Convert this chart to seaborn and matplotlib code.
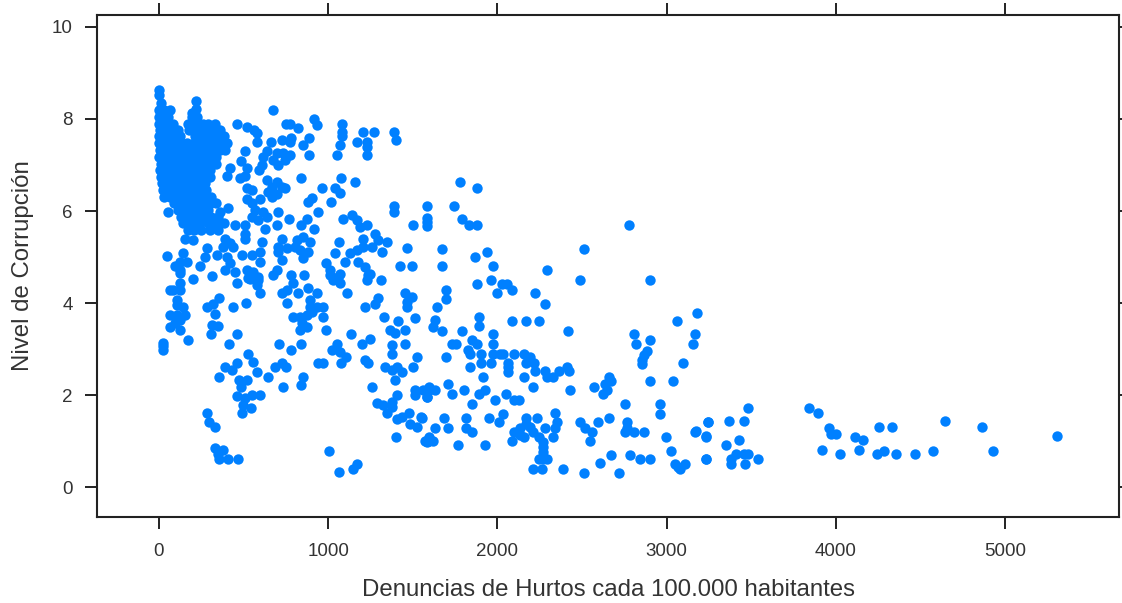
import matplotlib
matplotlib.use("Agg")
import matplotlib.pyplot as plt
import pandas as pd
import seaborn as sns

# (hurtos, corrupcion), por zona
nucleo_denso = {
    8.34: [10],
    8.20: [0, 30, 65],
    8.05: [0, 30, 55, 195, 225],
    7.90: [0, 20, 50, 85, 170, 200, 225, 260, 290, 330],
    7.76: [5, 40, 75, 110, 175, 215, 250, 280, 320, 360],
    7.62: [0, 30, 60, 90, 125, 215, 250, 300, 340, 385],
    7.47: [0, 25, 60, 95, 130, 165, 205, 240, 260, 290, 320, 360, 400],
    7.33: [5, 35, 70, 105, 145, 180, 215, 250, 290, 330, 360, 390],
    7.18: [0, 30, 65, 100, 140, 170, 205, 240, 275, 310, 340],
    7.03: [10, 45, 80, 115, 150, 185, 220, 255, 290, 340],
    6.89: [5, 40, 75, 110, 145, 180, 215, 250, 300],
    6.75: [10, 45, 80, 115, 150, 185, 220, 265, 300],
    6.60: [20, 55, 90, 125, 160, 195, 230, 270],
    6.45: [25, 60, 95, 130, 165, 200, 235, 280],
    6.31: [30, 65, 100, 135, 170, 205, 240, 275, 310],
    6.17: [90, 125, 160, 195, 230, 265, 310, 340],
    6.02: [110, 145, 180, 215, 250, 290],
    5.88: [130, 165, 200, 235, 270, 310, 350],
    5.73: [140, 175, 210, 245, 290, 320, 340, 385],
    5.58: [170, 205, 250, 300, 350],
}

zona_arriba = [
    (0, 8.62), (0, 8.52), (217, 8.40), (676, 8.19), (217, 8.21), (193, 8.12), (918, 8.0), (934, 7.88),
    (1084, 7.90), (459, 7.90), (749, 7.90), (775, 7.90), (824, 7.81), (518, 7.83), (562, 7.77), (1204, 7.72),
    (1273, 7.72), (1387, 7.72), (1399, 7.55), (1084, 7.72), (1084, 7.62), (885, 7.59), (853, 7.43), (780, 7.59),
    (775, 7.51), (725, 7.55), (660, 7.51), (578, 7.69), (578, 7.51), (1070, 7.43), (1169, 7.51), (1228, 7.51),
    (1228, 7.40), (1054, 7.21), (1228, 7.21), (885, 7.21), (509, 7.30), (637, 7.30), (617, 7.18), (696, 7.25),
    (735, 7.25), (775, 7.22), (676, 7.11), (706, 7.0), (745, 7.11), (483, 7.09), (522, 6.93), (607, 7.0),
    (593, 6.89), (420, 6.93), (400, 6.76), (509, 6.76), (479, 6.71), (838, 6.71), (1076, 6.71), (1159, 6.62),
    (962, 6.49), (1041, 6.49), (1070, 6.40), (637, 6.67), (696, 6.64), (666, 6.53), (725, 6.53), (646, 6.42),
    (696, 6.38), (745, 6.49), (666, 6.31), (518, 6.49), (548, 6.45), (518, 6.27), (548, 6.17), (597, 6.27),
    (903, 6.29), (879, 6.19), (1017, 6.19), (1387, 6.10), (1387, 5.98), (942, 5.98), (706, 5.98), (568, 6.02),
    (617, 5.98), (548, 5.88), (587, 5.80), (637, 5.88), (769, 5.82), (873, 5.82), (838, 5.69), (1090, 5.82),
    (1139, 5.91), (1169, 5.80), (1188, 5.66), (1228, 5.69), (1503, 5.69), (700, 5.69), (627, 5.61), (918, 5.61),
    (509, 5.69), (509, 5.51), (509, 5.40), (450, 5.69), (410, 6.06), (361, 5.98), (56, 5.98),
]

zona_centro = [
    (725, 5.40), (706, 5.22), (755, 5.19), (706, 5.11), (725, 4.93), (607, 5.32), (1066, 5.32), (1208, 5.40),
    (1277, 5.51), (1297, 5.37), (1257, 5.22), (1346, 5.32), (1316, 5.11), (1208, 5.22), (1169, 5.15), (1468, 5.19),
    (814, 5.37), (853, 5.44), (893, 5.33), (834, 5.15), (883, 5.11), (804, 5.22), (853, 4.97), (1041, 5.09),
    (1129, 5.09), (1100, 4.90), (987, 4.88), (1011, 4.72), (1178, 4.90), (1218, 4.79), (1247, 4.64), (1425, 4.80),
    (1494, 4.80), (1070, 4.64), (696, 4.72), (676, 4.61), (780, 4.61), (857, 4.61), (46, 5.02), (154, 5.40),
    (203, 5.37), (282, 5.19), (272, 5.0), (341, 5.04), (390, 5.40), (420, 5.30), (381, 5.22), (440, 5.22),
    (400, 5.0), (420, 4.86), (489, 5.04), (548, 5.04), (597, 5.11), (597, 4.90), (243, 4.81), (144, 5.08),
    (124, 4.90), (95, 4.81), (164, 4.90), (124, 4.71), (390, 4.71), (450, 4.68), (312, 4.59), (203, 4.52),
    (518, 4.71), (558, 4.68), (538, 4.53), (587, 4.57),
]

zona_abajo = [
    (124, 4.65), (124, 4.43), (85, 4.28), (124, 4.28), (65, 4.28), (459, 4.43), (528, 4.54), (587, 4.50),
    (578, 4.39), (597, 4.21), (794, 4.43), (755, 4.28), (725, 4.21), (824, 4.21), (883, 4.32), (932, 4.21),
    (893, 4.06), (1011, 4.61), (1060, 4.57), (1031, 4.50), (1070, 4.43), (1109, 4.21), (1238, 4.61), (1228, 4.50),
    (1310, 4.50), (1454, 4.21), (1494, 4.14), (1464, 4.03), (1464, 3.92), (1297, 4.10), (1277, 3.99), (1218, 3.92),
    (1513, 3.67), (1330, 3.70), (1411, 3.61), (1366, 3.41), (1395, 3.34), (1454, 3.41), (1454, 3.12), (1375, 3.09),
    (1375, 2.90), (1523, 2.82), (1503, 2.60), (755, 4.01), (893, 3.92), (932, 3.92), (971, 3.92), (903, 3.81),
    (971, 3.70), (794, 3.70), (834, 3.70), (873, 3.74), (844, 3.56), (834, 3.41), (873, 3.49), (987, 3.41),
    (1133, 3.33), (1247, 3.21), (1198, 3.11), (105, 4.06), (144, 3.92), (105, 3.96), (282, 3.92), (321, 3.99),
    (357, 4.10), (331, 3.77), (436, 3.92), (515, 4.01), (65, 3.74), (105, 3.74), (154, 3.74), (124, 3.63),
    (65, 3.49), (124, 3.41), (95, 3.56), (312, 3.52), (351, 3.50), (308, 3.33), (459, 3.33), (174, 3.19),
    (22, 3.14), (22, 3.06), (22, 2.98), (414, 3.11), (711, 3.11), (780, 2.99), (838, 3.11), (1054, 3.12),
    (1021, 2.99), (1070, 2.94), (1106, 2.82), (1076, 2.69), (528, 2.90), (558, 2.72), (582, 2.51), (459, 2.70),
    (390, 2.60), (430, 2.54), (355, 2.40), (643, 2.40), (686, 2.61), (725, 2.70), (751, 2.60), (942, 2.69),
    (968, 2.69), (1218, 2.77), (1238, 2.69), (1336, 2.60), (1375, 2.54), (1405, 2.61), (1435, 2.51), (1395, 2.33),
    (1261, 2.18), (849, 2.40), (838, 2.22), (735, 2.18), (475, 2.33), (518, 2.33), (483, 2.18), (459, 1.98),
    (509, 1.93), (548, 2.0), (597, 2.01), (499, 1.78), (542, 1.72), (493, 1.60), (286, 1.60), (298, 1.42),
    (333, 1.30), (1513, 2.10), (1513, 2.0), (1582, 2.10), (1582, 1.96), (1405, 2.0), (1375, 1.85), (1326, 1.78),
    (1287, 1.82), (1346, 1.60), (1375, 1.74), (1480, 1.60), (1549, 1.53), (1405, 1.49), (1435, 1.53), (1484, 1.38),
    (1523, 1.30), (1399, 1.08), (1582, 0.98), (331, 0.84), (351, 0.73), (381, 0.80), (357, 0.60), (410, 0.60),
    (469, 0.62), (1007, 0.78), (1169, 0.50), (1145, 0.40), (1066, 0.32),
]

zona_media = [
    (1779, 6.62), (1882, 6.49), (1582, 6.11), (1744, 6.11), (1582, 5.84), (1582, 5.77), (1582, 5.68), (1789, 5.82),
    (1835, 5.69), (1882, 5.69), (2776, 5.69), (1675, 5.18), (2510, 5.18), (1939, 5.10), (1870, 5.01), (1675, 4.80),
    (1974, 4.80), (2294, 4.72), (1961, 4.51), (2489, 4.51), (2902, 4.51), (1882, 4.42), (2030, 4.42), (2059, 4.42),
    (2089, 4.29), (1996, 4.21), (2225, 4.21), (1699, 4.29), (1699, 4.08), (2282, 3.99), (1641, 3.92), (3178, 3.79),
    (1894, 3.70), (1630, 3.63), (2089, 3.62), (2167, 3.62), (2248, 3.62), (3062, 3.62), (1894, 3.50), (1618, 3.48),
    (1675, 3.40), (1789, 3.40), (2420, 3.40), (2810, 3.33), (3166, 3.33), (1974, 3.33), (2902, 3.19), (1848, 3.19),
    (1730, 3.11), (1756, 3.11), (1882, 3.11), (1974, 3.11), (2821, 3.11), (3155, 3.11), (1825, 2.99), (2883, 2.95),
    (1837, 2.90), (1905, 2.90), (1976, 2.90), (2016, 2.90), (2035, 2.90), (2100, 2.90), (2158, 2.90), (2193, 2.82),
    (1699, 2.82), (2867, 2.86), (2855, 2.76), (2855, 2.67), (1905, 2.70), (1961, 2.70), (2065, 2.70), (2170, 2.70),
    (2217, 2.70), (3097, 2.69), (1837, 2.60), (2065, 2.60), (2065, 2.50), (2225, 2.52), (2284, 2.52), (2410, 2.60),
    (2364, 2.52), (2422, 2.52), (2294, 2.40), (2331, 2.40), (1917, 2.40), (2158, 2.40), (2662, 2.40), (2674, 2.31),
    (2902, 2.31), (3040, 2.31), (2638, 2.23), (2569, 2.18), (1710, 2.23), (2213, 2.18), (1596, 2.18), (1563, 2.10),
    (1596, 2.10), (1630, 2.10), (1582, 1.96), (1801, 2.10), (2431, 2.10), (1929, 2.10), (1894, 2.02), (1732, 2.02),
    (2650, 2.10), (2626, 2.02), (2053, 2.02), (1984, 1.89), (2100, 1.89), (2128, 1.89), (1848, 1.80), (2753, 1.80),
    (2959, 1.80), (2959, 1.58), (2032, 1.58), (2341, 1.60), (1555, 1.50), (1687, 1.50), (1813, 1.50), (1951, 1.50),
    (2008, 1.42), (2169, 1.50), (2236, 1.50), (2662, 1.50), (2351, 1.42), (2489, 1.42), (2593, 1.42), (2764, 1.42),
    (3247, 1.42), (2169, 1.38), (2193, 1.31), (2282, 1.29), (1630, 1.29), (1710, 1.29), (1813, 1.29), (2134, 1.29),
    (2341, 1.29), (2518, 1.29), (2764, 1.29), (1848, 1.20), (2100, 1.20), (2134, 1.13), (2213, 1.20), (2561, 1.20),
    (2753, 1.20), (2810, 1.20), (2867, 1.20), (3166, 1.20), (1596, 1.09), (1573, 1.0), (1596, 1.0), (1622, 1.0),
    (2331, 1.08), (2248, 1.08), (2272, 0.98), (2272, 0.87), (2272, 0.76), (2995, 1.08), (3235, 1.08), (2089, 1.0),
    (2158, 1.08), (2548, 1.0), (1768, 0.91), (1927, 0.91), (3028, 0.79), (2248, 0.62), (2294, 0.62), (2272, 0.62),
    (2672, 0.70), (2786, 0.70), (2843, 0.62), (2902, 0.62), (3235, 0.62), (2605, 0.53), (3050, 0.50), (3065, 0.44),
    (3080, 0.40), (3109, 0.50), (2213, 0.40), (2264, 0.40), (2386, 0.40), (2510, 0.31), (2719, 0.31),
]

zona_derecha = [
    (3842, 1.72), (3895, 1.61), (3481, 1.72), (3245, 1.41), (3369, 1.43), (3458, 1.43), (3174, 1.22), (3233, 1.11),
    (3351, 0.91), (3428, 1.02), (3233, 0.61), (3381, 0.61), (3381, 0.50), (3458, 0.72), (3410, 0.72), (3481, 0.72),
    (3463, 0.50), (3540, 0.61), (3960, 1.28), (3972, 1.15), (4001, 1.15), (3918, 0.80), (4025, 0.72), (4113, 1.09),
    (4160, 1.02), (4137, 0.80), (4255, 1.30), (4332, 1.30), (4243, 0.72), (4285, 0.78), (4355, 0.72), (4468, 0.72),
    (4574, 0.78), (4645, 1.43), (4864, 1.30), (4929, 0.78), (5307, 1.11),
]

ticks_x = [0, 1000, 2000, 3000, 4000, 5000]
ticks_y = [0, 2, 4, 6, 8, 10]

puntos = [(x, y) for y, fila in nucleo_denso.items() for x in fila]
puntos += zona_arriba + zona_centro + zona_abajo + zona_media + zona_derecha
df = pd.DataFrame(puntos, columns=["hurtos", "corrupcion"])

sns.set_theme(style="white")
plt.rcParams["font.family"] = ["Liberation Sans", "DejaVu Sans"]

fig = plt.figure(figsize=(11.22, 6.03), dpi=100)
ax = fig.add_axes([97 / 1122, 1 - 517 / 603, (1119 - 97) / 1122, (517 - 15) / 603])
sns.scatterplot(data=df, x="hurtos", y="corrupcion", color="#0080ff", s=56, linewidth=0, ax=ax)

ax.set_xlim(-366, 5674)
ax.set_ylim(-0.65, 10.26)
ax.set_xticks(ticks_x)
ax.set_yticks(ticks_y)
ax.tick_params(axis="both", which="major", direction="out", length=8.5, width=1.4, color="#222222",
               top=True, right=True, bottom=True, left=True, labelsize=13.5, labelcolor="#333333", pad=9)
ax.tick_params(axis="x", pad=10)
ax.set_xlabel("Denuncias de Hurtos cada 100.000 habitantes", fontsize=17.3, color="#333333", labelpad=14)
ax.set_ylabel("Nivel de Corrupción", fontsize=17.3, color="#333333", labelpad=13)
for lado in ax.spines.values():
    lado.set_visible(True)
    lado.set_linewidth(1.5)
    lado.set_color("#222222")

fig.savefig("out.png", dpi=100)
